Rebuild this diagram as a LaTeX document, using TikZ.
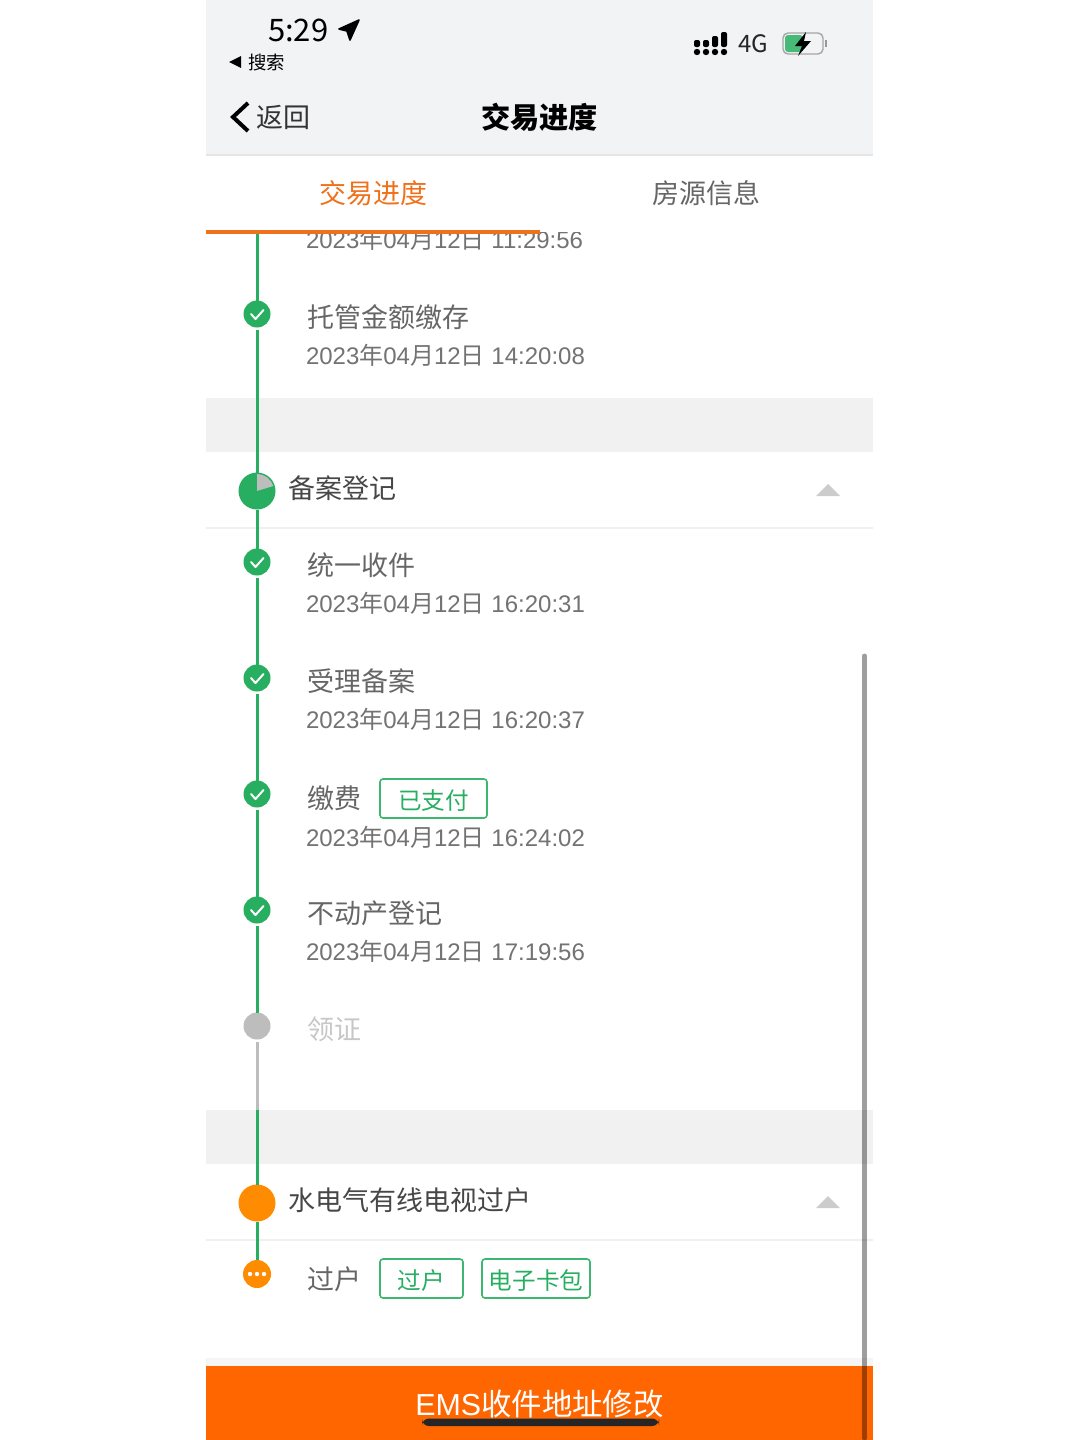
\documentclass[tikz,border=0pt]{standalone}
\usepackage{fontspec}
\setmainfont{Liberation Sans}
\newfontfamily\cjk{Noto Sans CJK SC}
\newcommand\Cj[1]{{\cjk #1}}
\newcommand\Dt[1]{2023\Cj{年}04\Cj{月}12\Cj{日} #1}
\definecolor{okgreen}{HTML}{27AE60}
\definecolor{bargrey}{HTML}{F2F3F5}
\definecolor{bandgrey}{HTML}{F1F1F1}
\definecolor{tabor}{HTML}{F0711B}
\definecolor{btnor}{HTML}{FF6600}
\definecolor{dotor}{HTML}{FF8C00}
\definecolor{dimgrey}{HTML}{BDBDBD}
\tikzset{
  x=0.5pt,y=-0.5pt,
  txt/.style={inner sep=0pt,outer sep=0pt,anchor=west},
  stitle/.style={txt,font=\cjk\fontsize{13.5pt}{15pt}\selectfont,text=black!72},
  rowt/.style={txt,font=\cjk\fontsize{13.5pt}{15pt}\selectfont,text=black!60},
  rowd/.style={txt,font=\fontsize{12pt}{14pt}\selectfont,text=black!55},
  dotok/.style={circle,fill=okgreen,minimum size=13.5pt,inner sep=0pt,outer sep=0pt},
  dotgrey/.style={dotok,fill=dimgrey},
  dotdue/.style={dotok,fill=dotor,minimum size=14pt},
  bigdot/.style={dotok,minimum size=18.5pt},
  tagbox/.style={draw=okgreen!90!white,line width=0.8pt,rounded corners=1.5pt,inner sep=0pt,outer sep=0pt,text=okgreen,font=\cjk\fontsize{11.8pt}{13pt}\selectfont,minimum height=19.5pt,text height=11pt,text depth=0pt},
  track/.style={draw=okgreen,line width=1.5pt},
  trackoff/.style={draw=dimgrey,line width=1.5pt},
  tick/.style={draw=white,line width=1pt,line cap=round,line join=round},
  sep/.style={draw=black!6,line width=0.6pt},
  caret/.style={fill=black!20,draw=none}
}
\begin{document}
\begin{tikzpicture}
\useasboundingbox (0,0) rectangle (1080,1440);
\fill[white] (0,0) rectangle (1080,1440);
% clipped row text behind the tab strip
\node[rowd] (d0) at (306,239.5) {\Dt{11:29:56}};
\fill[white] (206,155) rectangle (873,232);
% bars
\fill[bargrey] (206,0) rectangle (873,155);
\draw[draw=black!10,line width=0.6pt] (206,155) -- (873,155);
\fill[bandgrey] (206,398) rectangle (873,452);
\fill[bandgrey] (206,1110) rectangle (873,1164);
\draw[sep] (206,528) -- (873,528);
\draw[sep] (206,1240) -- (873,1240);
\fill[black!4] (206,1358) rectangle (873,1366);
\fill[btnor] (206,1366) rectangle (873,1440);
% status bar
\node[txt,font=\cjk\fontsize{15.5pt}{17pt}\selectfont,text=black] (clock) at (268,30) {5:29};
\filldraw[black,line width=0.8pt,line join=round] (339,29) -- (359,20) -- (350,40) -- (347,31) -- cycle;
\fill[black] (229,62) -- (241,56) -- (241,68) -- cycle;
\node[txt,font=\cjk\fontsize{9.2pt}{11pt}\selectfont,text=black] (back1) at (248,63) {搜索};
\foreach \x/\t in {697/40,706/40,715/36,724/32}{
  \fill[black,rounded corners=1pt] (\x-3,\t) rectangle (\x+3,47);
  \fill[black] (\x,52) circle[radius=3.2];
}
\node[txt,font=\cjk\fontsize{12pt}{14pt}\selectfont,text=black!85] (net) at (738,44) {4G};
\draw[black!35,line width=0.7pt,rounded corners=2.5pt] (783,33) rectangle (823,54);
\fill[okgreen!85!white,rounded corners=1.5pt] (785,35) rectangle (803,52);
\fill[black!40] (825,40) rectangle (827,47);
\fill[black] (806,32) -- (795,46) -- (802,46) -- (798,56) -- (811,41) -- (804,41) -- cycle;
% nav
\draw[black,line width=2pt,line join=miter] (248,103) -- (233,117) -- (248,131);
\node[txt,font=\cjk\fontsize{13.5pt}{15pt}\selectfont,text=black!80] (back) at (256,117) {返回};
\node[font=\cjk\bfseries\fontsize{14.6pt}{16pt}\selectfont,text=black,inner sep=0pt] (title) at (539.5,117) {交易进度};
\node[font=\cjk\fontsize{13.5pt}{15pt}\selectfont,text=tabor,inner sep=0pt] (tab1) at (373,193) {交易进度};
\node[font=\cjk\fontsize{13.5pt}{15pt}\selectfont,text=black!60,inner sep=0pt] (tab2) at (706,193) {房源信息};
\draw[draw=tabor,line width=1.7pt] (206,232) -- (540,232);
% timeline nodes
\coordinate (top) at (257,234);
\coordinate (bandstart) at (257,1110);
\node[dotok] (n0) at (257,314) {};
\node[bigdot] (s1) at (257,491) {};
\fill[dimgrey] (s1.center) -- ++(0,-17) arc[start angle=-90,end angle=-17,radius=17] -- cycle;
\node[dotok] (n1) at (257,562) {};
\node[dotok] (n2) at (257,678) {};
\node[dotok] (n3) at (257,794) {};
\node[dotok] (n4) at (257,910) {};
\node[dotgrey] (n5) at (257,1026) {};
\node[bigdot,fill=dotor] (s2) at (257,1203) {};
\node[dotdue] (n6) at (257,1274) {};
\foreach \n in {n0,n1,n2,n3,n4}{
  \draw[tick] ([shift={(-6,0)}]\n.center) -- ([shift={(-1.5,5)}]\n.center) -- ([shift={(6.5,-4)}]\n.center);
}
\foreach \d in {-7,0,7}{\fill[white] ([shift={(\d,0)}]n6.center) circle[radius=2.2];}
% connectors
\draw[track] (top) -- (n0);
\draw[track,shorten <=1pt] (n0) -- (s1);
\draw[track] (s1) -- (n1);
\draw[track,shorten <=1pt] (n1) -- (n2);
\draw[track,shorten <=1pt] (n2) -- (n3);
\draw[track,shorten <=1pt] (n3) -- (n4);
\draw[track,shorten <=1pt] (n4) -- (n5);
\draw[trackoff,shorten <=1pt] (n5) -- (bandstart);
\draw[track] (bandstart) -- (s2);
\draw[track] (s2) -- (n6);
% section titles
\node[stitle] (t1) at (288,488) {备案登记};
\node[stitle] (t2) at (288,1200) {水电气有线电视过户};
\fill[caret] (816,496) -- (828,484) -- (840,496) -- cycle;
\fill[caret] (816,1208) -- (828,1196) -- (840,1208) -- cycle;
% rows
\node[rowt] (a0) at (307,317) {托管金额缴存};
\node[rowd] (b0) at (306,355) {\Dt{14:20:08}};
\node[rowt] (a1) at (307,565) {统一收件};
\node[rowd] (b1) at (306,603) {\Dt{16:20:31}};
\node[rowt] (a2) at (307,681) {受理备案};
\node[rowd] (b2) at (306,719) {\Dt{16:20:37}};
\node[rowt] (a3) at (307,798) {缴费};
\node[rowd] (b3) at (306,837) {\Dt{16:24:02}};
\node[rowt] (a4) at (307,913) {不动产登记};
\node[rowd] (b4) at (306,951) {\Dt{17:19:56}};
\node[rowt,text=black!22] (a5) at (307,1029) {领证};
\node[rowt] (a6) at (307,1279) {过户};
\node[tagbox,minimum width=53.5pt] (g1) at (433.5,798.5) {已支付};
\node[tagbox,minimum width=41.5pt] (g2) at (421.5,1278.5) {过户};
\node[tagbox,minimum width=54pt] (g3) at (536,1278.5) {电子卡包};
% button
\node[font=\fontsize{15.2pt}{17pt}\selectfont,text=white,inner sep=0pt] (ems) at (539.5,1404) {EMS\Cj{收件地址修改}};
\fill[black!85,rounded corners=3.5pt] (422,1418.5) rectangle (659,1426);
% scrollbar
\draw[black,opacity=0.38,line width=2.5pt,line cap=round] (864.5,656) -- (864.5,1438);
\end{tikzpicture}
\end{document}
